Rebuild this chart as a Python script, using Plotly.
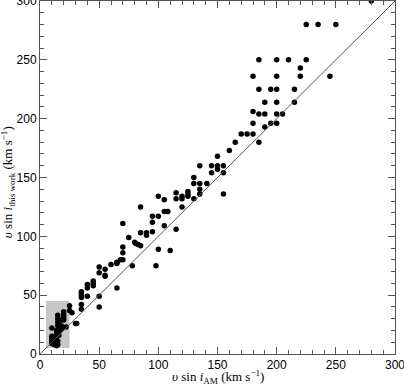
import plotly.graph_objects as go

# v sin i from AM catalogue (x) and this work (y), km/s
vsini_am = [
  280,
  225, 235, 250,
  185, 200, 210, 225,
  220,
  180, 200, 220, 245,
  185, 195, 200, 215,
  190, 200, 215,
  180, 185, 190, 200, 205,
  180, 190, 195, 200,
  170, 175, 180,
  165, 185,
  160, 150,
  135, 145, 150, 155,
  145, 150, 155,
  130, 130, 135, 141, 135,
  115, 125, 125, 125, 120, 120, 115, 130, 135, 155,
  105, 100, 120, 105, 108, 85, 95, 100,
  70, 95, 105, 115,
  75, 85, 90, 90, 95,
  80, 81, 83, 85,
  70, 70, 70, 68, 65, 65, 60, 78,
  100, 110, 98,
  50, 50, 55, 55, 55,
  45, 45, 45, 40, 40, 65,
  35, 35, 35, 35, 40, 50, 50, 35, 35,
  25, 25, 27, 30, 31,
  10, 10, 10, 10, 10,
  12, 12, 12,
  14, 14, 14, 14, 14, 14,
  15, 15, 15, 15, 15, 15,
  16, 16, 16, 16,
  18, 18, 18,
  20, 20, 20, 20, 20,
  22,
]
vsini_this = [
  300,
  280, 280, 280,
  250, 250, 250, 250,
  243,
  236, 236, 236, 236,
  225, 225, 225, 225,
  214, 214, 214,
  206, 204, 204, 204, 204,
  196, 193, 196, 196,
  187, 187, 187,
  180, 180,
  173, 168,
  160, 160, 160, 160,
  154, 157, 154,
  150, 145, 145, 145, 140,
  137, 138, 136, 134, 134, 132, 132, 132, 136, 136,
  131, 134, 125, 121, 121, 125, 117, 117,
  111, 112, 109, 106,
  99, 103, 103, 101, 104,
  95, 94, 93, 92,
  91, 86, 80, 80, 78, 77, 76, 75,
  89, 88, 75,
  74, 69, 72, 67, 66,
  62, 60, 58, 59, 56, 56,
  53, 52, 50, 48, 49, 49, 40, 42, 38,
  41, 37, 35, 26, 26,
  22, 15, 13, 11, 9,
  14, 10, 8,
  20, 17, 15, 12, 9, 7,
  33, 30, 27, 24, 11, 8,
  25, 22, 19, 16,
  29, 24, 21,
  36, 34, 32, 30, 29,
  23,
]

AX = dict(
  range=[0, 300],
  dtick=50,
  showgrid=False,
  zeroline=False,
  showline=True,
  linecolor='#555555',
  linewidth=1,
  mirror='ticks',
  ticks='inside',
  ticklen=7,
  tickcolor='#555555',
  tickfont=dict(family='Liberation Sans', size=12, color='#000000'),
  minor=dict(dtick=10, ticks='inside', ticklen=4, tickcolor='#555555'),
  automargin=False,
  ticklabeloverflow='allow',
)
TITLE_FONT = dict(family='Liberation Serif', size=13, color='#000000')

fig = go.Figure()
fig.add_shape(type='rect', x0=5, x1=25, y0=5, y1=45, fillcolor='#c8c8c8',
              line_width=0, layer='below')
fig.add_shape(type='line', x0=0, y0=0, x1=300, y1=300,
              line=dict(color='#555555', width=1))
fig.add_trace(go.Scatter(
  x=vsini_am, y=vsini_this, mode='markers',
  marker=dict(size=5.5, color='#000000'),
  showlegend=False,
))

fig.update_xaxes(**AX)
fig.update_yaxes(**AX)

fig.add_annotation(
  text='<i>υ</i> sin <i>i</i><sub>AM</sub> (km s<sup>−1</sup>)',
  xref='paper', yref='paper', x=0.5, y=-0.066, xanchor='center', yanchor='middle',
  showarrow=False, font=TITLE_FONT,
)
fig.add_annotation(
  text='<i>υ</i> sin <i>i</i><sub>this work</sub> (km s<sup>−1</sup>)',
  xref='paper', yref='paper', x=-0.09, y=0.487, xanchor='center', yanchor='middle',
  textangle=-90, showarrow=False, font=TITLE_FONT,
)

fig.update_layout(
  width=404, height=385,
  margin=dict(l=40, r=9, t=1, b=31),
  paper_bgcolor='white', plot_bgcolor='white',
)
# page body has a default 8px margin; drop it so the figure sits at the corner
fig.write_html("out.html", config={'displayModeBar': False},
               post_script="document.body.style.margin='0';")
